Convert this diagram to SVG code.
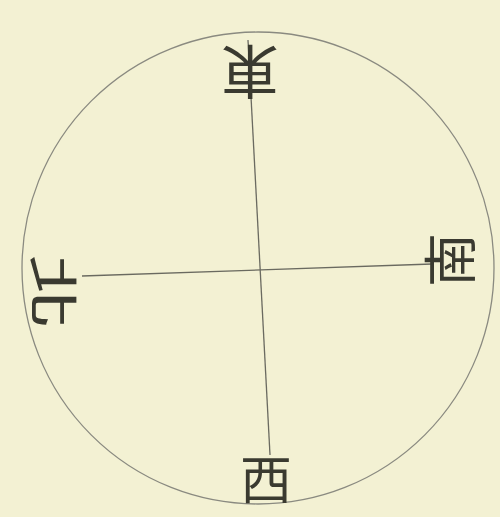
<svg xmlns="http://www.w3.org/2000/svg" width="500" height="517" viewBox="0 0 500 517">
<style>
.lbl{font-family:"Noto Sans CJK TC","Noto Sans CJK SC",serif;fill:#3a3a30;text-anchor:middle;dominant-baseline:central;}
.ln{stroke:#6a6a60;stroke-width:1.3;fill:none;}
</style>
<rect x="0" y="0" width="500" height="517" fill="#f3f1d3"/>
<g id="circle"><circle cx="258" cy="268" r="236" fill="none" stroke="#8a8a80" stroke-width="1.3"/></g>
<g id="connectors">
<line class="ln" x1="248" y1="40" x2="270" y2="455"/>
<line class="ln" x1="82" y1="276" x2="432" y2="264"/>
</g>
<g id="east"><text class="lbl" font-size="58" transform="translate(250,75) rotate(180)">東</text></g>
<g id="south"><text class="lbl" font-size="54" transform="translate(447,260) rotate(-90)">南</text></g>
<g id="west"><text class="lbl" font-size="52" transform="translate(266,476)">西</text></g>
<g id="north"><text class="lbl" font-size="60" transform="translate(56,292) scale(0.85,1.25) rotate(90)">北</text></g>
</svg>
